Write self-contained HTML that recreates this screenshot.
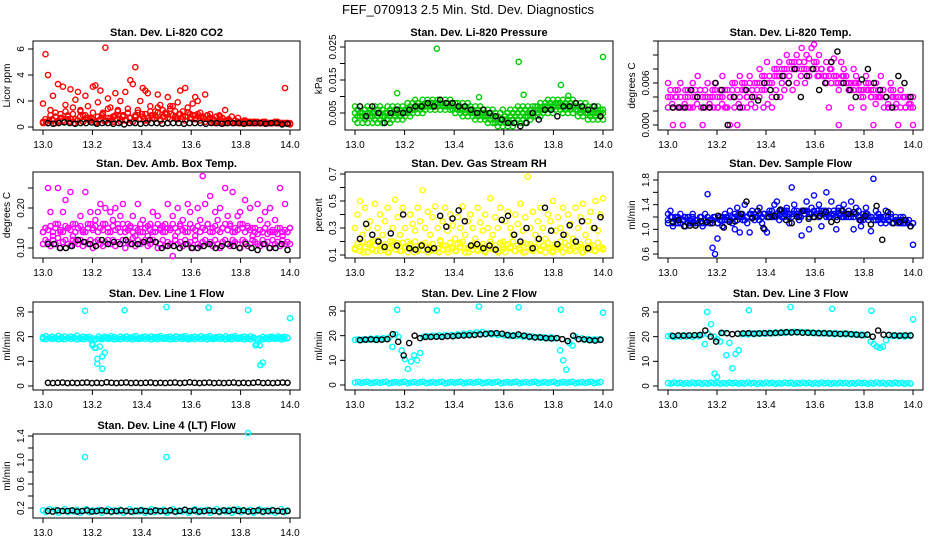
<!DOCTYPE html>
<html><head><meta charset="utf-8"><style>
html,body{margin:0;padding:0;background:#fff;}
svg{display:block;font-family:"Liberation Sans",sans-serif;}
</style></head><body>
<svg id="c" width="936" height="540" xmlns="http://www.w3.org/2000/svg">
<text x="468" y="14" text-anchor="middle" font-size="13">FEF_070913  2.5 Min. Std. Dev. Diagnostics</text>
</svg>
<script>
const NS="http://www.w3.org/2000/svg";
const svg=document.getElementById('c');
const xTicks=[13.0,13.2,13.4,13.6,13.8,14.0];

// ---- data ----
const co2RedA=[1.8,5.6,4.0,1.3,2.4,0.8,3.3,1.0,3.1,1.7,0.6,2.9,1.5,2.1,2.7,1.2,0.9,2.4,1.6,0.7,3.1,3.2,1.9,2.8,1.1,6.1,2.2,1.5,0.8,2.6,1.3,2.0,0.9,2.7,1.4,3.6,3.3,4.6,1.1,2.0,3.0,2.8,2.6,1.6,0.9,1.2,2.5,1.7,1.3,1.0,2.3,1.4,1.6,0.8,1.9,2.8,1.2,3.0,1.5,1.0,1.8,2.3,2.0,1.1,0.8,2.5,0.9,0.7,0.6,0.5,0.4,0.8,0.4,1.3,0.5,0.4,0.3,0.5,0.4,0.3,0.3,0.5,0.3,0.4,0.3,0.3,0.4,0.3,0.3,0.4,0.3,0.3,0.3,0.4,0.3,0.3,0.3,3.0,0.3,0.2];
const co2RedB=[0.4,0.6,0.3,0.9,0.5,1.1,0.4,0.7,0.5,1.2,0.8,0.4,1.0,0.6,0.5,1.3,0.4,0.9,0.7,0.5,1.1,0.4,0.8,0.6,1.0,0.5,1.4,0.7,0.4,0.9,1.2,0.6,0.8,0.5,1.1,0.7,0.4,0.9,1.3,0.6,0.8,1.0,0.5,1.2,0.7,0.9,1.5,0.6,0.8,1.1,0.7,1.6,0.9,1.2,0.6,1.0,0.8,0.5,1.1,0.7,0.9,0.6,0.8,0.5,0.7,0.4,0.6,0.4,0.5,0.3,0.4,0.3,0.4,0.3,0.3,0.4,0.3,0.3,0.4,0.3,0.3,0.4,0.3,0.3,0.3,0.4,0.3,0.3,0.3,0.4,0.3,0.3,0.3,0.3,0.4,0.3,0.3,0.3,0.3,0.3];
const co2RedC=[0.3,0.4,0.5,0.6,0.3,0.5,0.7,0.4,0.9,0.6,0.3,0.5,0.8,0.4,0.7,0.5,0.6,0.3,0.5,0.9,0.4,0.7,0.5,0.8,0.6,0.4,0.9,0.5,0.7,0.4,0.8,0.6,1.0,0.5,0.7,0.9,0.6,1.1,0.5,0.8,1.0,0.6,0.9,0.7,1.0,0.6,0.8,1.1,0.7,0.9,1.0,0.8,0.7,0.9,1.0,0.6,0.8,0.9,0.7,0.5,0.6,0.8,0.5,0.7,0.4,0.5,0.4,0.3,0.4,0.3,0.3,0.4,0.3,0.3,0.3,0.4,0.3,0.3,0.3,0.3];
const co2Black=[0.3,0.25,0.3,0.35,0.3,0.25,0.3,0.3,0.35,0.25,0.3,0.3,0.25,0.3,0.2,0.3,0.3,0.25,0.3,0.3,0.3,0.25,0.3,0.3,0.3,0.25,0.3,0.3,0.3,0.25,0.3,0.3,0.25,0.3,0.3,0.3,0.25,0.3,0.3,0.3,0.25,0.3,0.3,0.2,0.25];

const presA=[0.007,0.006,0.007,0.005,0.006,0.007,0.006,0.005,0.007,0.006,0.007,0.006,0.005,0.007,0.006,0.007,0.006,0.007,0.006,0.007,0.006,0.008,0.007,0.008,0.009,0.008,0.007,0.009,0.008,0.009,0.008,0.009,0.008,0.009,0.009,0.008,0.009,0.008,0.009,0.008,0.008,0.008,0.007,0.008,0.007,0.008,0.007,0.006,0.007,0.006,0.007,0.006,0.005,0.006,0.005,0.006,0.005,0.004,0.005,0.006,0.004,0.005,0.006,0.005,0.006,0.007,0.006,0.007,0.006,0.007,0.006,0.007,0.007,0.007,0.008,0.007,0.008,0.009,0.008,0.009,0.008,0.009,0.008,0.009,0.008,0.009,0.008,0.009,0.008,0.007,0.008,0.007,0.008,0.007,0.006,0.007,0.006,0.007,0.006,0.006];
const presB=[0.003,0.002,0.004,0.002,0.003,0.002,0.004,0.002,0.003,0.002,0.003,0.002,0.004,0.003,0.002,0.003,0.004,0.003,0.004,0.003,0.004,0.005,0.004,0.005,0.006,0.005,0.006,0.005,0.006,0.007,0.006,0.007,0.006,0.007,0.006,0.007,0.006,0.007,0.006,0.006,0.005,0.006,0.005,0.004,0.005,0.004,0.005,0.004,0.003,0.004,0.003,0.004,0.003,0.002,0.003,0.002,0.002,0.001,0.002,0.001,0.002,0.001,0.002,0.001,0.002,0.003,0.002,0.003,0.002,0.004,0.003,0.004,0.004,0.005,0.004,0.005,0.006,0.005,0.006,0.005,0.006,0.007,0.006,0.005,0.006,0.005,0.006,0.005,0.006,0.004,0.005,0.004,0.005,0.003,0.004,0.003,0.004,0.003,0.004,0.003];
const presC=[0.005,0.004,0.005,0.004,0.004,0.005,0.005,0.004,0.005,0.004,0.005,0.004,0.005,0.005,0.004,0.005,0.005,0.005,0.005,0.005,0.005,0.006,0.006,0.006,0.007,0.007,0.007,0.007,0.007,0.008,0.007,0.008,0.007,0.008,0.008,0.008,0.007,0.008,0.007,0.007,0.007,0.007,0.006,0.006,0.006,0.006,0.006,0.005,0.005,0.005,0.005,0.005,0.004,0.004,0.004,0.004,0.003,0.003,0.003,0.003,0.003,0.003,0.004,0.003,0.004,0.005,0.004,0.005,0.004,0.005,0.005,0.005,0.006,0.006,0.006,0.006,0.007,0.007,0.007,0.007,0.007,0.008,0.007,0.007,0.007,0.007,0.007,0.007,0.007,0.006,0.006,0.006,0.006,0.005,0.005,0.005,0.005,0.005,0.005,0.005];
const presOutT=[13.17,13.33,13.5,13.66,13.68,13.83,13.86,14.0];
const presOutV=[0.011,0.0245,0.0098,0.0205,0.0105,0.0135,0.0102,0.022];
const presBlack=[0.007,0.004,0.007,0.005,0.002,0.005,0.006,0.005,0.006,0.007,0.007,0.008,0.007,0.009,0.008,0.008,0.007,0.007,0.006,0.005,0.006,0.005,0.004,0.003,0.002,0.002,0.001,0.002,0.005,0.003,0.006,0.006,0.004,0.007,0.007,0.008,0.007,0.006,0.007,0.004];

const tempA=[0.006,0.004,0,0.005,0.0025,0.006,0,0.004,0.005,0.0025,0.006,0.004,0.007,0.005,0,0.0025,0.006,0.004,0.005,0.006,0.0025,0.004,0.007,0.005,0.0025,0,0.006,0.004,0,0.007,0.005,0.006,0.0025,0.007,0.005,0.004,0.006,0.008,0.007,0.005,0.009,0.006,0.0025,0.008,0.007,0.009,0.006,0.008,0.01,0.007,0.009,0.008,0.01,0.009,0.011,0.008,0.01,0.0095,0.011,0.0115,0.009,0.01,0.008,0.007,0.009,0.0025,0.008,0.0095,0.007,0,0.009,0.008,0.007,0.006,0.0025,0.008,0.007,0.006,0.005,0.0025,0.007,0.006,0.005,0,0.006,0.004,0.007,0.005,0.004,0.0025,0.006,0.005,0.004,0,0.005,0.004,0.0025,0.004,0.003,0];
const tempB=[0.004,0.005,0.0025,0.004,0.005,0.004,0.0025,0.005,0.004,0.005,0.0025,0.005,0.004,0.005,0.004,0.005,0.004,0.0025,0.004,0.005,0.004,0.005,0.004,0.0025,0.005,0.004,0.005,0.006,0.005,0.004,0.006,0.005,0.004,0.006,0.005,0.006,0.005,0.006,0.005,0.007,0.006,0.007,0.006,0.007,0.008,0.007,0.008,0.007,0.008,0.009,0.008,0.009,0.008,0.009,0.008,0.009,0.008,0.007,0.008,0.009,0.008,0.007,0.008,0.007,0.006,0.007,0.006,0.007,0.006,0.005,0.006,0.007,0.006,0.005,0.006,0.005,0.006,0.005,0.004,0.005,0.006,0.005,0.004,0.005,0.004,0.005,0.004,0.005,0.004,0.0025,0.005,0.004,0.0025,0.004,0.005,0.004,0.0025,0.004,0.0025,0.004];
const tempC=[0.0025,0.003,0.004,0.0025,0.003,0.0025,0.004,0.003,0.0025,0.004,0.003,0.0025,0.0025,0.003,0.0025,0.004,0.0025,0.003,0.0025,0.004,0.003,0.0025,0.004,0.0025,0.003,0.004,0.005,0.004,0.005,0.006,0.005,0.006,0.007,0.006,0.007,0.008,0.007,0.008,0.007,0.008,0.007,0.006,0.007,0.006,0.005,0.006,0.005,0.004,0.005,0.004,0.003,0.004,0.0025,0.003,0.004,0.003,0.0025,0.004,0.003,0.0025];
const tempBlack=[0.0025,0.0025,0.0025,0.005,0.004,0.0025,0.0025,0.006,0.005,0,0.004,0.0025,0.005,0.004,0.0035,0.006,0.005,0.004,0.007,0.006,0.008,0.004,0.007,0.008,0.005,0.006,0.009,0.0105,0.006,0.005,0.004,0.0065,0.008,0.006,0.005,0.004,0.0025,0.007,0.006,0.004];

const ambA=[0.14,0.15,0.25,0.19,0.13,0.16,0.25,0.14,0.19,0.22,0.15,0.24,0.13,0.16,0.15,0.18,0.14,0.24,0.16,0.19,0.15,0.17,0.19,0.21,0.16,0.2,0.14,0.19,0.17,0.2,0.16,0.18,0.21,0.14,0.16,0.15,0.18,0.13,0.21,0.14,0.17,0.15,0.13,0.16,0.19,0.14,0.18,0.15,0.14,0.16,0.21,0.15,0.18,0.13,0.2,0.16,0.17,0.14,0.21,0.19,0.15,0.13,0.2,0.17,0.28,0.21,0.16,0.23,0.14,0.19,0.17,0.2,0.15,0.25,0.18,0.16,0.24,0.14,0.18,0.19,0.16,0.22,0.15,0.2,0.13,0.15,0.21,0.17,0.14,0.19,0.16,0.2,0.14,0.17,0.15,0.25,0.13,0.21,0.14,0.15];
const ambB=[0.11,0.12,0.115,0.105,0.12,0.11,0.125,0.1,0.115,0.12,0.11,0.105,0.12,0.115,0.11,0.12,0.105,0.115,0.11,0.12,0.1,0.115,0.12,0.11,0.105,0.115,0.12,0.11,0.12,0.105,0.115,0.11,0.12,0.1,0.115,0.11,0.125,0.105,0.12,0.11,0.115,0.12,0.105,0.11,0.12,0.115,0.1,0.11,0.12,0.105,0.115,0.11,0.08,0.12,0.11,0.115,0.105,0.12,0.11,0.115,0.1,0.12,0.11,0.105,0.115,0.12,0.11,0.115,0.105,0.12,0.11,0.1,0.115,0.12,0.11,0.105,0.12,0.115,0.11,0.1,0.12,0.115,0.105,0.11,0.12,0.115,0.11,0.105,0.12,0.11,0.115,0.1,0.12,0.11,0.115,0.105,0.12,0.11,0.115,0.11];
const ambC=[0.14,0.15,0.145,0.155,0.14,0.15,0.16,0.145,0.14,0.155,0.15,0.145,0.16,0.14,0.15,0.155,0.145,0.14,0.15,0.16,0.145,0.155,0.14,0.15,0.145,0.16,0.15,0.14,0.155,0.145,0.15,0.14,0.16,0.15,0.145,0.155,0.14,0.15,0.145,0.16,0.14,0.15,0.155,0.145,0.14,0.15,0.16,0.145,0.155,0.14,0.15,0.145,0.16,0.15,0.14,0.155,0.145,0.15,0.14,0.16,0.15,0.145,0.155,0.14,0.15,0.145,0.16,0.14,0.15,0.155,0.145,0.14,0.15,0.16,0.145,0.155,0.14,0.15,0.145,0.16,0.15,0.14,0.155,0.145,0.15,0.14,0.135,0.145,0.14,0.15,0.135,0.14,0.145,0.14,0.135,0.15,0.14,0.145,0.14,0.15];
const ambBlack=[0.11,0.11,0.1,0.1,0.105,0.12,0.115,0.11,0.105,0.12,0.11,0.115,0.11,0.12,0.11,0.11,0.115,0.12,0.115,0.1,0.105,0.105,0.1,0.11,0.1,0.1,0.105,0.11,0.1,0.105,0.11,0.105,0.1,0.11,0.1,0.095,0.11,0.1,0.1,0.11,0.095];

const rhA=[0.3,0.4,0.5,0.25,0.45,0.3,0.35,0.2,0.48,0.3,0.4,0.25,0.35,0.45,0.2,0.3,0.51,0.38,0.25,0.45,0.3,0.2,0.4,0.33,0.28,0.45,0.35,0.58,0.3,0.42,0.25,0.38,0.46,0.3,0.2,0.35,0.45,0.28,0.4,0.32,0.22,0.38,0.3,0.46,0.25,0.35,0.4,0.3,0.22,0.45,0.34,0.28,0.4,0.3,0.52,0.25,0.38,0.3,0.45,0.2,0.35,0.42,0.3,0.25,0.4,0.33,0.48,0.28,0.38,0.68,0.3,0.42,0.25,0.35,0.45,0.3,0.22,0.4,0.35,0.5,0.28,0.38,0.3,0.45,0.25,0.4,0.33,0.22,0.45,0.3,0.38,0.48,0.25,0.35,0.42,0.3,0.5,0.28,0.4,0.52];
const rhB=[0.15,0.18,0.13,0.2,0.16,0.12,0.19,0.14,0.17,0.21,0.13,0.16,0.18,0.12,0.15,0.2,0.14,0.17,0.13,0.19,0.16,0.12,0.18,0.15,0.2,0.13,0.17,0.14,0.19,0.12,0.16,0.18,0.13,0.15,0.21,0.14,0.17,0.12,0.19,0.15,0.13,0.18,0.16,0.2,0.12,0.15,0.17,0.14,0.19,0.13,0.16,0.18,0.12,0.15,0.2,0.14,0.17,0.13,0.19,0.16,0.12,0.18,0.15,0.2,0.13,0.17,0.14,0.19,0.12,0.16,0.18,0.13,0.15,0.21,0.14,0.17,0.12,0.19,0.15,0.13,0.18,0.16,0.2,0.12,0.15,0.17,0.14,0.19,0.13,0.16,0.18,0.12,0.15,0.2,0.14,0.17,0.13,0.19,0.16,0.15];
const rhC=[0.14,0.16,0.12,0.18,0.15,0.13,0.17,0.14,0.12,0.16,0.19,0.13,0.15,0.17,0.12,0.14,0.18,0.16,0.13,0.15,0.12,0.17,0.14,0.16,0.13,0.19,0.15,0.12,0.17,0.14,0.16,0.13,0.18,0.15,0.12,0.14,0.17,0.16,0.13,0.15,0.12,0.18,0.14,0.16,0.13,0.17,0.15,0.12,0.14,0.16,0.19,0.13,0.15,0.17,0.12,0.14,0.16,0.13,0.15,0.14];
const rhBlack=[0.22,0.33,0.25,0.2,0.16,0.26,0.17,0.4,0.15,0.14,0.17,0.14,0.15,0.39,0.31,0.37,0.43,0.35,0.17,0.18,0.15,0.17,0.14,0.36,0.39,0.25,0.2,0.3,0.15,0.22,0.45,0.28,0.18,0.25,0.32,0.2,0.35,0.15,0.3,0.38];

const flowA=[1.25,1.3,1.05,1.2,1.1,1.25,1.15,1.05,1.2,1.1,1.25,1.15,1.1,1.2,1.05,1.25,1.57,1.1,0.7,0.6,0.85,1.2,1.05,1.25,1.15,1.3,1.1,1.0,1.35,0.95,1.2,1.4,1.1,0.95,1.3,1.15,1.2,1.35,1.1,1.0,0.95,1.3,1.2,1.4,1.45,1.15,1.3,1.2,1.35,1.1,1.68,1.4,1.25,1.15,0.9,1.3,1.45,1.0,1.35,1.55,1.25,1.4,1.05,1.3,1.6,1.2,1.45,1.3,1.0,1.35,1.25,1.4,1.2,1.3,1.45,1.0,1.35,1.3,1.05,1.25,1.35,1.2,0.97,1.82,1.3,1.25,1.1,1.2,1.3,1.15,1.25,1.1,1.2,1.15,1.1,1.2,1.15,1.1,1.05,0.75];
const flowB=[1.15,1.2,1.1,1.15,1.2,1.1,1.15,1.2,1.1,1.15,1.2,1.1,1.15,1.2,1.1,1.15,1.2,1.1,1.15,1.2,1.1,1.15,1.2,1.15,1.2,1.15,1.2,1.25,1.15,1.2,1.25,1.15,1.2,1.25,1.2,1.25,1.2,1.25,1.2,1.25,1.2,1.25,1.3,1.2,1.25,1.3,1.2,1.25,1.3,1.25,1.2,1.3,1.25,1.2,1.3,1.25,1.3,1.2,1.25,1.3,1.25,1.2,1.3,1.25,1.2,1.3,1.25,1.3,1.2,1.25,1.3,1.2,1.25,1.2,1.25,1.2,1.25,1.2,1.15,1.2,1.25,1.15,1.2,1.15,1.2,1.15,1.2,1.15,1.1,1.15,1.2,1.1,1.15,1.1,1.15,1.1,1.15,1.1,1.05,1.1];
const flowC=[1.1,1.2,1.15,1.1,1.2,1.15,1.1,1.15,1.2,1.1,1.15,1.2,1.1,1.15,1.2,1.15,1.2,1.25,1.15,1.2,1.25,1.2,1.15,1.25,1.2,1.3,1.2,1.25,1.3,1.2,1.25,1.3,1.2,1.3,1.25,1.2,1.3,1.25,1.3,1.2,1.25,1.3,1.2,1.25,1.2,1.25,1.2,1.15,1.25,1.2,1.15,1.2,1.15,1.2,1.1,1.15,1.2,1.1,1.15,1.1];
const flowBlack=[1.12,1.15,1.05,1.06,1.06,1.13,1.12,1.1,1.22,1.03,1.12,1.13,1.25,1.45,1.18,1.3,1.02,1.2,1.22,1.32,1.15,1.1,1.2,1.3,1.17,1.2,1.22,1.28,1.12,1.15,1.3,1.25,1.28,1.15,1.22,1.08,1.38,0.83,1.28,1.1,1.12,1.15,1.05];

const l1A=[19.8,20.2,19.5,20.0,19.6,20.3,19.7,20.1,19.5,20.0,19.8,20.4,19.6,20.0,19.7,19.9,16.5,15.5,20.1,19.5,20.0,19.6,20.2,19.8,19.5,20.0,19.7,20.1,19.6,19.9,20.2,19.5,19.8,20.0,19.6,20.1,19.7,19.9,20.2,19.5,19.8,20.0,19.6,20.1,19.7,19.9,20.2,19.5,19.8,20.0,19.6,20.1,19.7,19.9,20.2,19.5,19.8,20.0,19.6,20.1,19.7,19.9,20.2,19.5,19.8,20.0,19.6,20.1,19.7,17.0,16.5,19.9,19.5,19.8,20.0,19.6,20.1,19.7,19.9,19.5];
const l1B=[19.2,19.0,19.4,19.1,19.3,18.9,19.2,19.0,19.4,19.1,19.3,18.9,19.2,19.0,19.4,19.1,19.3,18.9,19.2,19.0,19.4,19.1,19.3,18.9,19.2,19.0,19.4,19.1,19.3,18.9,19.2,19.0,19.4,19.1,19.3,18.9,19.2,19.0,19.4,19.1,19.3,18.9,19.2,19.0,19.4,19.1,19.3,18.9,19.2,19.0,19.4,19.1,19.3,18.9,19.2,19.0,19.4,19.1,19.3,18.9,19.2,19.0,19.4,19.1,19.3,18.9,19.2,19.0,19.4,19.1,19.3,18.9,19.2,19.0,19.4,19.1,19.3,18.9,19.2,19.4];
const l1OutT=[13.17,13.33,13.5,13.67,13.83,14.0,13.21,13.22,13.22,13.23,13.24,13.24,13.25,13.88,13.89,13.2,13.86];
const l1OutV=[30.5,30.7,32,31.8,30.8,27.5,15.5,11,9,16,7,12,13.5,8.5,9.5,17,16.5];
const l1Black=[1.3,1.2,1.3,1.4,1.2,1.3,1.2,1.3,1.4,1.2,1.3,1.2,1.5,1.3,1.2,1.3,1.4,1.2,1.3,1.2,1.3,1.4,1.2,1.3,1.2,1.3,1.4,1.2,1.3,1.5,1.3,1.2,1.3,1.4,1.2,1.3,1.2,1.3,1.4,1.2,1.3,1.2,1.3,1.5,1.2,1.3,1.2,1.3,1.4,1.3];

const l2A=[18.3,18.5,18.2,18.6,18.4,18.8,18.5,18.9,18.6,19.0,18.7,19.2,15.5,20.5,19.5,14,10.5,6.5,9.5,12,10,13,19.5,19.8,19.6,20,19.7,20.1,19.8,20.2,19.9,20.3,20.0,20.5,20.2,20.8,20.4,21.0,20.6,21.3,20.8,21.5,20.6,21.0,20.5,20.8,20.3,20.6,20.1,20.4,19.9,20.2,19.8,20.1,19.6,19.9,19.4,19.7,19.3,19.5,19.2,19.4,19.0,19.3,18.9,19.1,14,10,6.2,17,16,19.5,18.6,18.9,18.4,18.7,18.2,18.5,18.3,18.6];
const l2Low=[1.0,1.2,0.9,1.1,1.3,0.8,1.0,1.2,0.9,1.1,1.3,0.8,1.0,1.2,0.9,1.1,1.3,0.8,1.0,1.2,0.9,1.1,1.3,0.8,1.0,1.2,0.9,1.1,1.3,0.8,1.0,1.2,0.9,1.1,1.3,0.8,1.0,1.2,0.9,1.1,1.3,0.8,1.0,1.2,0.9,1.1,1.3,0.8,1.0,1.2,0.9,1.1,1.3,0.8,1.0,1.2,0.9,1.1,1.3,0.8,1.0,1.2,0.9,1.1,1.3,0.8,1.0,1.2,0.9,1.1,1.3,0.8,1.0,1.2,0.9,1.1,1.3,0.8,1.0,1.2];
const l2OutT=[13.17,13.33,13.5,13.66,13.83,14.0];
const l2OutV=[30.5,30.2,31.8,31.5,30.5,29.3];
const l2Black=[18.2,18.4,18.5,18.3,18.4,18.6,20.6,17.5,12,17,20,19,19.5,19.5,19.6,19.5,19.8,19.8,20,20.1,20.2,20.3,20.5,20.7,20.9,21,20.8,20.2,20,20.5,20,19.6,19.3,19.3,19,18.9,19,18.6,17.8,20,18.6,18.5,18.2,18,18.3];

const l3A=[20.2,20.5,19.8,20.3,20.0,20.6,20.1,20.4,19.9,20.5,20.2,20.7,17,21,25,20,19,18,21.5,12.5,17.5,7.2,13,14.5,21,21.2,20.9,21.3,21.0,21.4,21.1,21.5,21.2,21.6,21.3,21.7,21.4,21.8,21.5,21.9,21.6,22.0,21.7,21.9,21.6,21.8,21.5,21.7,21.4,21.6,21.3,21.5,21.2,21.4,21.1,21.3,21.0,21.2,20.9,21.1,20.8,21.0,20.7,20.9,20.6,20.8,18,17,16,15.5,16,18.5,20.5,20.3,20.6,20.2,20.5,20.1,20.4,20.3];
const l3Low=[1.2,1.0,1.4,1.1,1.3,0.9,1.2,1.0,1.4,1.1,1.3,0.9,1.2,1.0,1.4,1.1,1.3,0.9,1.2,1.0,1.4,1.1,1.3,0.9,1.2,1.0,1.4,1.1,1.3,0.9,1.2,1.0,1.4,1.1,1.3,0.9,1.2,1.0,1.4,1.1,1.3,0.9,1.2,1.0,1.4,1.1,1.3,0.9,1.2,1.0,1.4,1.1,1.3,0.9,1.2,1.0,1.4,1.1,1.3,0.9,1.2,1.0,1.4,1.1,1.3,0.9,1.2,1.0,1.4,1.1,1.3,0.9,1.2,1.0,1.4,1.1,1.3,0.9,1.2,1.0];
const l3OutT=[13.16,13.19,13.2,13.33,13.5,13.67,13.83,14.0];
const l3OutV=[30,5,3.7,30.7,32,31.3,30.5,27];
const l3Black=[20.3,20.5,20.4,20.5,20.6,20.7,22.5,20,18,21.5,21.4,21,21.2,21.3,21.4,21.2,21.3,21.4,21.4,21.5,21.6,21.8,21.7,21.8,21.6,21.6,21.5,21.4,21.4,21.3,21.2,21.1,21.2,21,20.8,20.6,20.8,20,22.5,20.8,20.7,20.5,20.4,20.5,20.5];

const l4A=[0.16,0.13,0.18,0.14,0.17,0.12,0.15,0.18,0.13,0.16,0.14,0.17,0.12,0.15,0.18,0.13,0.16,0.14,0.17,0.12,0.15,0.18,0.13,0.16,0.14,0.17,0.12,0.15,0.18,0.13,0.16,0.14,0.17,0.12,0.15,0.18,0.13,0.16,0.14,0.17,0.12,0.15,0.18,0.13,0.16,0.14,0.17,0.12,0.15,0.18,0.13,0.16,0.14,0.17,0.12,0.15,0.18,0.13,0.16,0.14,0.17,0.12,0.15,0.18,0.13,0.16,0.14,0.17,0.12,0.15,0.18,0.13,0.16,0.14,0.17,0.12,0.15,0.18,0.13,0.16];
const l4OutT=[13.17,13.5,13.83];
const l4OutV=[1.05,1.05,1.45];
const l4Black=[0.15,0.14,0.16,0.15,0.15,0.16,0.14,0.15,0.16,0.14,0.15,0.16,0.15,0.14,0.15,0.16,0.15,0.14,0.15,0.16,0.15,0.14,0.16,0.15,0.15,0.16,0.14,0.15,0.17,0.15,0.16,0.14,0.15,0.16,0.15,0.14,0.16,0.15,0.17,0.15,0.16,0.14,0.15,0.16,0.14,0.15,0.16,0.15,0.14,0.15];

// ---- layout ----
const colL=[33,345,658], colW=[267,268,265], colX0=[43,355,668], colX1=[290,603,913];
const rowT=[41,172,302,434], rowB=[130,258,390,518];

function el(tag,attrs,parent){const e=document.createElementNS(NS,tag);for(const k in attrs)e.setAttribute(k,attrs[k]);(parent||svg).appendChild(e);return e;}

function panel(name,r,c,title,ylab,ya,yb,yTicks,yLabels){
  const g=el('g',{});
  
  
  const L=colL[c],W=colW[c],T=rowT[r],B=rowB[r];
  const xs=t=>colX0[c]+(t-13)*(colX1[c]-colX0[c]);
  const ys=v=>ya[1]+(v-ya[0])*(yb[1]-ya[1])/(yb[0]-ya[0]);
  const tt=el('text',{x:L+W/2,y:T-5,'text-anchor':'middle','font-size':'11','font-weight':'bold'},g);
  tt.textContent=title;
  
  
  const box=el('rect',{x:L,y:T,width:W,height:B-T,fill:'none',stroke:'#000','stroke-width':1},g);
  
  
  const xa=el('g',{},g);
  
  
  el('line',{x1:xs(13),x2:xs(14),y1:B,y2:B,stroke:'#000'},xa);
  xTicks.forEach(t=>{
    el('line',{x1:xs(t),x2:xs(t),y1:B,y2:B+5,stroke:'#000'},xa);
    const tx=el('text',{x:xs(t),y:B+18,'text-anchor':'middle','font-size':'10'},xa);
    tx.textContent=t.toFixed(1);
    
    
  });
  const yaG=el('g',{},g);
  
  
  el('line',{x1:L,x2:L,y1:ys(yTicks[0]),y2:ys(yTicks[yTicks.length-1]),stroke:'#000'},yaG);
  yTicks.forEach(v=>{el('line',{x1:L-5,x2:L,y1:ys(v),y2:ys(v),stroke:'#000'},yaG);});
  yLabels.forEach(s=>{
    const y=ys(parseFloat(s));
    const tx=el('text',{x:0,y:0,'text-anchor':'middle','font-size':'10',transform:`translate(${L-9},${y}) rotate(-90)`},yaG);
    tx.textContent=s;
    
    
  });
  const yl=el('text',{x:0,y:0,'text-anchor':'middle','font-size':'10',transform:`translate(${L-23},${(T+B)/2}) rotate(-90)`},g);
  yl.textContent=ylab;
  
  
  const pts=el('g',{fill:'none','stroke-width':1.4},g);
  
  
  return {
    series(vals,color,t0,t1){
      const n=vals.length;
      vals.forEach((v,i)=>{
        const t=t0+(n>1?i*(t1-t0)/(n-1):0);
        const cc=el('circle',{cx:xs(t),cy:ys(v),r:2.6,stroke:color},pts);
        
        
      });
    },
    xy(ts,vals,color){
      ts.forEach((t,i)=>{
        const cc=el('circle',{cx:xs(t),cy:ys(vals[i]),r:2.6,stroke:color},pts);
        
        
      });
    }
  };
}

const RED='#ff0000',GRN='#00cc00',MAG='#ff00ff',YEL='#ffff00',BLU='#0000ff',CY='#00ffff',BK='#000000';

let p=panel('panel-co2',0,0,'Stan. Dev. Li-820 CO2','Licor ppm',[0,127],[6,49],[0,2,4,6],['0','2','4','6']);
p.series(co2RedC,RED,13.0,13.99);p.series(co2RedB,RED,13.0,14.0);p.series(co2RedA,RED,13.0,14.0);p.series(co2Black,BK,13.02,13.99);

p=panel('panel-pressure',0,1,'Stan. Dev. Li-820 Pressure','kPa',[0.005,113],[0.025,47],[0.005,0.01,0.015,0.02,0.025],['0.005','0.015','0.025']);
p.series(presC,GRN,13.0,14.0);p.series(presB,GRN,13.0,14.0);p.series(presA,GRN,13.0,14.0);p.xy(presOutT,presOutV,GRN);p.series(presBlack,BK,13.02,13.99);

p=panel('panel-temp',0,2,'Stan. Dev. Li-820 Temp.','degrees C',[0,125],[0.006,83],[0,0.002,0.004,0.006,0.008,0.010,0.012],['0.000','0.006']);
p.series(tempC,MAG,13.0,14.0);p.series(tempB,MAG,13.0,14.0);p.series(tempA,MAG,13.0,14.0);p.series(tempBlack,BK,13.02,13.99);

p=panel('panel-amb-temp',1,0,'Stan. Dev. Amb. Box Temp.','degrees C',[0.10,248],[0.20,208],[0.10,0.15,0.20,0.25],['0.10','0.20']);
p.series(ambB,MAG,13.0,14.0);p.series(ambC,MAG,13.0,14.0);p.series(ambA,MAG,13.0,14.0);p.series(ambBlack,BK,13.02,13.99);

p=panel('panel-rh',1,1,'Stan. Dev. Gas Stream RH','percent',[0.1,255],[0.7,174],[0.1,0.2,0.3,0.4,0.5,0.6,0.7],['0.1','0.3','0.5','0.7']);
p.series(rhC,YEL,13.0,14.0);p.series(rhB,YEL,13.0,14.0);p.series(rhA,YEL,13.0,14.0);p.series(rhBlack,BK,13.02,13.99);

p=panel('panel-sample-flow',1,2,'Stan. Dev. Sample Flow','ml/min',[0.6,254],[1.8,180],[0.6,0.8,1.0,1.2,1.4,1.6,1.8],['0.6','1.0','1.4','1.8']);
p.series(flowC,BLU,13.0,14.0);p.series(flowB,BLU,13.0,14.0);p.series(flowA,BLU,13.0,14.0);p.series(flowBlack,BK,13.02,13.99);

p=panel('panel-line1',2,0,'Stan. Dev. Line 1 Flow','ml/min',[0,386],[30,312],[0,10,20,30],['0','10','20','30']);
p.series(l1B,CY,13.0,13.99);p.series(l1A,CY,13.0,13.99);p.xy(l1OutT,l1OutV,CY);p.series(l1Black,BK,13.02,13.99);

p=panel('panel-line2',2,1,'Stan. Dev. Line 2 Flow','ml/min',[0,385],[30,311],[0,10,20,30],['0','10','20','30']);
p.series(l2Low,CY,13.0,13.99);p.series(l2A,CY,13.0,13.99);p.xy(l2OutT,l2OutV,CY);p.series(l2Black,BK,13.02,13.99);

p=panel('panel-line3',2,2,'Stan. Dev. Line 3 Flow','ml/min',[0,386],[30,312],[0,10,20,30],['0','10','20','30']);
p.series(l3Low,CY,13.0,13.99);p.series(l3A,CY,13.0,13.99);p.xy(l3OutT,l3OutV,CY);p.series(l3Black,BK,13.02,13.99);

p=panel('panel-line4',3,0,'Stan. Dev. Line 4 (LT) Flow','ml/min',[0.2,508],[1.4,436],[0.2,0.4,0.6,0.8,1.0,1.2,1.4],['0.2','0.6','1.0','1.4']);
p.series(l4A,CY,13.0,13.99);p.xy(l4OutT,l4OutV,CY);p.series(l4Black,BK,13.02,13.99);
</script>
</body></html>
